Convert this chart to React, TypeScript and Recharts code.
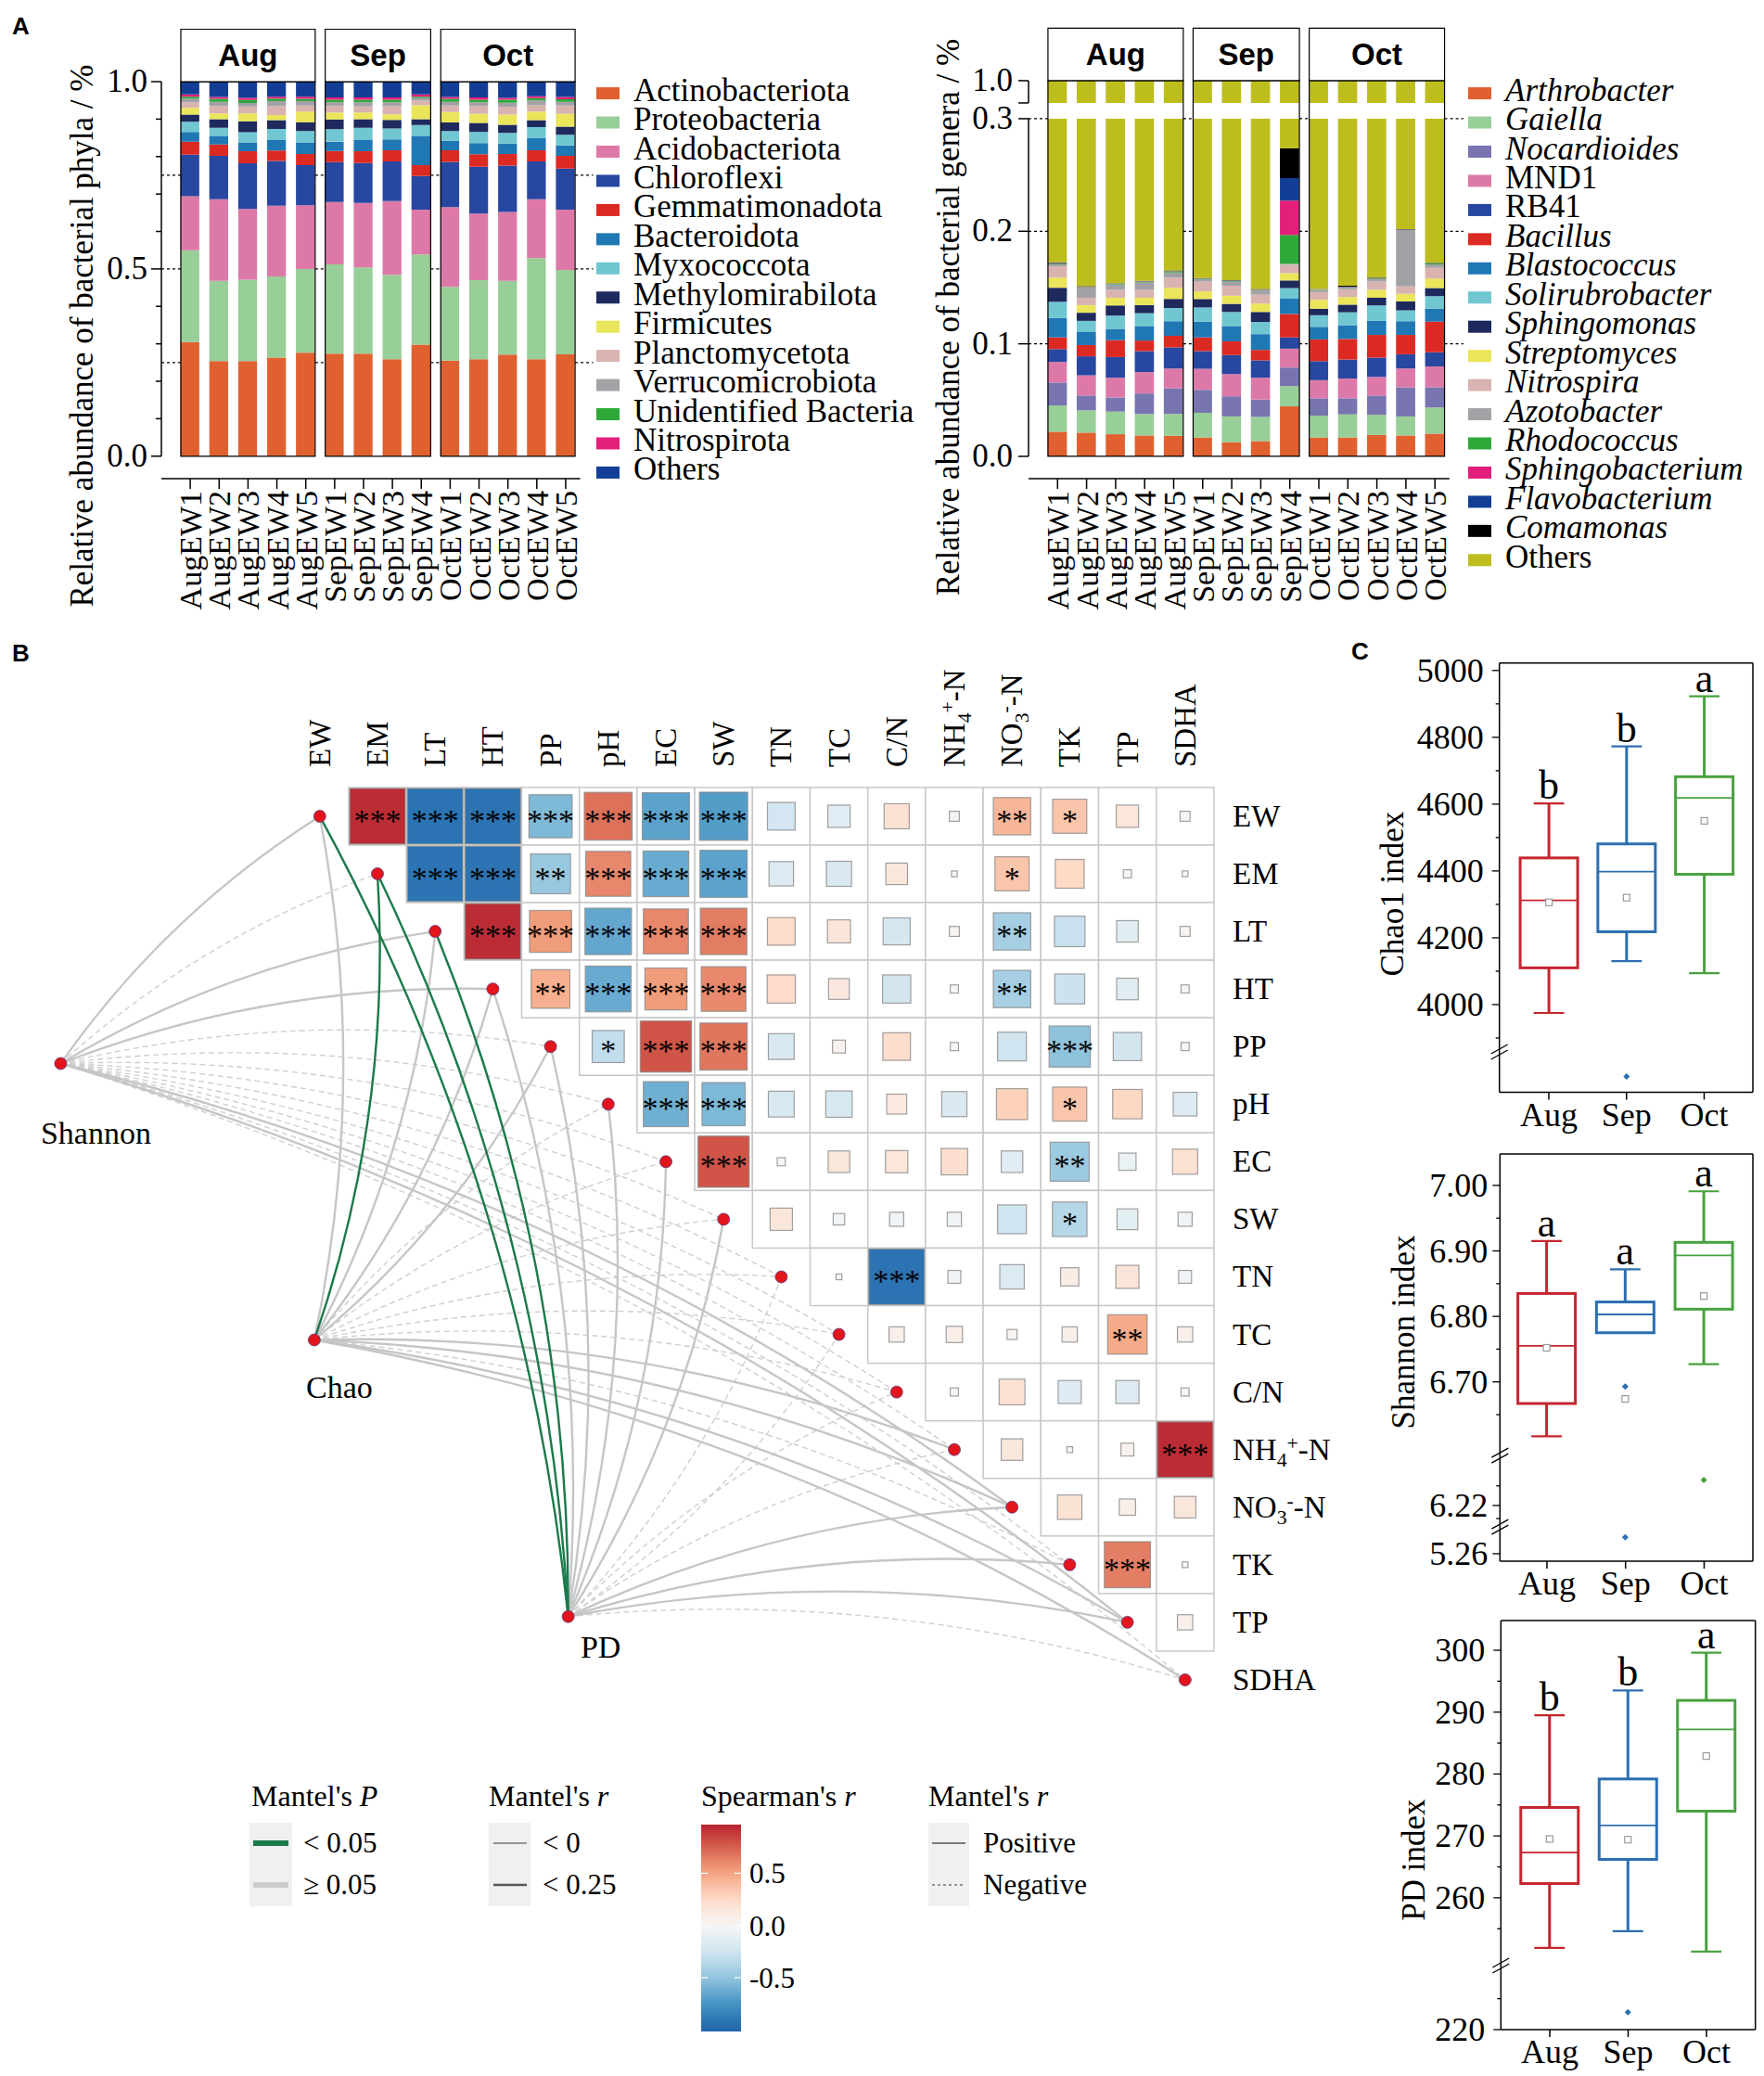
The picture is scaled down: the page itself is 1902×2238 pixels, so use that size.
import React from 'react';
import {
  BarChart, Bar, XAxis, YAxis, ReferenceLine, ReferenceArea, Legend,
  ScatterChart, Scatter, ComposedChart,
} from 'recharts';

const SERIF = "'Liberation Serif', 'Times New Roman', Times, serif";
const SANS = "'Liberation Sans', Arial, Helvetica, sans-serif";

/* ======================= Panel A : data ======================= */
const SAMPLES = ['AugEW1', 'AugEW2', 'AugEW3', 'AugEW4', 'AugEW5', 'SepEW1', 'SepEW2', 'SepEW3', 'SepEW4', 'OctEW1', 'OctEW2', 'OctEW3', 'OctEW4', 'OctEW5'];
const MONTHS = ['Aug', 'Sep', 'Oct'];

// phyla (relative abundance, bottom -> top of each stack)
const actinobacteriota = [0.305, 0.254, 0.254, 0.263, 0.276, 0.274, 0.274, 0.259, 0.298, 0.255, 0.259, 0.271, 0.259, 0.272];
const proteobacteria = [0.245, 0.214, 0.217, 0.217, 0.224, 0.238, 0.230, 0.225, 0.241, 0.197, 0.211, 0.197, 0.270, 0.225];
const acidobacteriota = [0.144, 0.218, 0.189, 0.189, 0.170, 0.167, 0.172, 0.197, 0.119, 0.213, 0.178, 0.184, 0.157, 0.161];
const chloroflexi = [0.111, 0.116, 0.122, 0.119, 0.107, 0.106, 0.107, 0.106, 0.090, 0.121, 0.125, 0.124, 0.101, 0.110];
const gemmatimonadota = [0.035, 0.030, 0.032, 0.028, 0.030, 0.030, 0.031, 0.030, 0.029, 0.031, 0.033, 0.031, 0.030, 0.034];
const bacteroidota = [0.026, 0.023, 0.024, 0.029, 0.031, 0.025, 0.030, 0.029, 0.078, 0.025, 0.030, 0.028, 0.033, 0.028];
const myxococcota = [0.027, 0.022, 0.027, 0.029, 0.030, 0.033, 0.033, 0.029, 0.029, 0.026, 0.030, 0.028, 0.029, 0.028];
const methylomirabilota = [0.019, 0.023, 0.029, 0.023, 0.024, 0.026, 0.023, 0.023, 0.016, 0.023, 0.024, 0.022, 0.018, 0.022];
const firmicutes = [0.018, 0.015, 0.021, 0.014, 0.028, 0.019, 0.018, 0.015, 0.037, 0.028, 0.024, 0.027, 0.023, 0.034];
const planctomycetota = [0.015, 0.020, 0.019, 0.024, 0.016, 0.017, 0.016, 0.022, 0.013, 0.017, 0.021, 0.021, 0.017, 0.022];
const verrucomicrobiota = [0.009, 0.011, 0.009, 0.013, 0.012, 0.010, 0.011, 0.010, 0.006, 0.010, 0.010, 0.011, 0.013, 0.010];
const unidentifiedBacteria = [0.006, 0.008, 0.008, 0.007, 0.006, 0.007, 0.007, 0.007, 0.004, 0.008, 0.007, 0.008, 0.006, 0.007];
const nitrospirota = [0.006, 0.005, 0.006, 0.005, 0.006, 0.006, 0.006, 0.006, 0.006, 0.005, 0.006, 0.005, 0.005, 0.006];
const othersPhyla = [0.034, 0.041, 0.043, 0.040, 0.040, 0.042, 0.042, 0.042, 0.034, 0.041, 0.042, 0.043, 0.039, 0.041];

// genera
const arthrobacter = [0.0219, 0.0211, 0.0197, 0.0186, 0.0183, 0.0168, 0.0125, 0.0136, 0.0444, 0.0168, 0.0168, 0.0190, 0.0186, 0.0201];
const gaiella = [0.0233, 0.0198, 0.0201, 0.0190, 0.0193, 0.0219, 0.0230, 0.0215, 0.0180, 0.0194, 0.0205, 0.0179, 0.0169, 0.0233];
const nocardioides = [0.0204, 0.0132, 0.0125, 0.0183, 0.0230, 0.0204, 0.0179, 0.0154, 0.0165, 0.0154, 0.0143, 0.0172, 0.0258, 0.0179];
const mnd1 = [0.0183, 0.0179, 0.0176, 0.0190, 0.0175, 0.0187, 0.0197, 0.0194, 0.0168, 0.0161, 0.0176, 0.0165, 0.0168, 0.0186];
const rb41 = [0.0114, 0.0169, 0.0183, 0.0186, 0.0187, 0.0157, 0.0169, 0.0154, 0.0100, 0.0169, 0.0168, 0.0172, 0.0126, 0.0126];
const bacillus = [0.0104, 0.0100, 0.0150, 0.0094, 0.0104, 0.0122, 0.0122, 0.0093, 0.0208, 0.0193, 0.0183, 0.0201, 0.0172, 0.0272];
const blastococcus = [0.0172, 0.0115, 0.0101, 0.0129, 0.0129, 0.0140, 0.0136, 0.0140, 0.0136, 0.0112, 0.0122, 0.0125, 0.0122, 0.0115];
const solirubrobacter = [0.0144, 0.0100, 0.0118, 0.0114, 0.0118, 0.0126, 0.0125, 0.0108, 0.0094, 0.0103, 0.0115, 0.0137, 0.0096, 0.0111];
const sphingomonas = [0.0125, 0.0072, 0.0090, 0.0072, 0.0079, 0.0075, 0.0072, 0.0089, 0.0068, 0.0058, 0.0068, 0.0068, 0.0079, 0.0072];
const streptomyces = [0.0090, 0.0068, 0.0068, 0.0065, 0.0100, 0.0068, 0.0072, 0.0075, 0.0064, 0.0079, 0.0068, 0.0071, 0.0068, 0.0086];
const nitrospira = [0.0100, 0.0065, 0.0071, 0.0071, 0.0090, 0.0086, 0.0089, 0.0079, 0.0076, 0.0068, 0.0068, 0.0072, 0.0065, 0.0093];
const azotobacter = [0.0018, 0.0089, 0.0047, 0.0065, 0.0046, 0.0018, 0.0036, 0.0036, 0.0007, 0.0021, 0.0014, 0.0021, 0.0502, 0.0032];
const rhodococcus = [0.0007, 0.0007, 0.0007, 0.0007, 0.0011, 0.0007, 0.0007, 0.0007, 0.0258, 0.0003, 0.0004, 0.0007, 0.0002, 0.0007];
const sphingobacterium = [0.0004, 0.0003, 0.0002, 0.0003, 0.0003, 0.0003, 0.0003, 0.0003, 0.0304, 0.0002, 0.0003, 0.0003, 0.0002, 0.0003];
const flavobacterium = [0.0003, 0.0002, 0.0001, 0.0002, 0.0002, 0.0002, 0.0002, 0.0002, 0.0201, 0.0001, 0.0003, 0.0002, 0.0001, 0.0002];
const comamonas = [0.0004, 0.0003, 0.0001, 0.0002, 0.0002, 0.0002, 0.0002, 0.0002, 0.0265, 0.0001, 0.0008, 0.0003, 0.0002, 0.0002];
const othersGenera = [0.8276, 0.8487, 0.8462, 0.8441, 0.8348, 0.8416, 0.8434, 0.8513, 0.7262, 0.8513, 0.8484, 0.8412, 0.7982, 0.8280];

const PHYLA = [
  { name: 'Actinobacteriota', values: actinobacteriota, color: '#E0612F' },
  { name: 'Proteobacteria', values: proteobacteria, color: '#98CE97' },
  { name: 'Acidobacteriota', values: acidobacteriota, color: '#DD79A9' },
  { name: 'Chloroflexi', values: chloroflexi, color: '#2747A0' },
  { name: 'Gemmatimonadota', values: gemmatimonadota, color: '#DC2A23' },
  { name: 'Bacteroidota', values: bacteroidota, color: '#1F78B4' },
  { name: 'Myxococcota', values: myxococcota, color: '#70C6D1' },
  { name: 'Methylomirabilota', values: methylomirabilota, color: '#1E2A5E' },
  { name: 'Firmicutes', values: firmicutes, color: '#EAE55A' },
  { name: 'Planctomycetota', values: planctomycetota, color: '#D9B3B0' },
  { name: 'Verrucomicrobiota', values: verrucomicrobiota, color: '#A2A2A6' },
  { name: 'Unidentified Bacteria', values: unidentifiedBacteria, color: '#2FA83A' },
  { name: 'Nitrospirota', values: nitrospirota, color: '#E41F7B' },
  { name: 'Others', values: othersPhyla, color: '#123E95' },
];

const GENERA = [
  { name: 'Arthrobacter', values: arthrobacter, color: '#E0612F', italic: true },
  { name: 'Gaiella', values: gaiella, color: '#98CE97', italic: true },
  { name: 'Nocardioides', values: nocardioides, color: '#7774B0', italic: true },
  { name: 'MND1', values: mnd1, color: '#DD79A9', italic: false },
  { name: 'RB41', values: rb41, color: '#2747A0', italic: false },
  { name: 'Bacillus', values: bacillus, color: '#DC2A23', italic: true },
  { name: 'Blastococcus', values: blastococcus, color: '#1F78B4', italic: true },
  { name: 'Solirubrobacter', values: solirubrobacter, color: '#70C6D1', italic: true },
  { name: 'Sphingomonas', values: sphingomonas, color: '#1E2A5E', italic: true },
  { name: 'Streptomyces', values: streptomyces, color: '#EAE55A', italic: true },
  { name: 'Nitrospira', values: nitrospira, color: '#D9B3B0', italic: true },
  { name: 'Azotobacter', values: azotobacter, color: '#A2A2A6', italic: true },
  { name: 'Rhodococcus', values: rhodococcus, color: '#2FA83A', italic: true },
  { name: 'Sphingobacterium', values: sphingobacterium, color: '#E41F7B', italic: true },
  { name: 'Flavobacterium', values: flavobacterium, color: '#123E95', italic: true },
  { name: 'Comamonas', values: comamonas, color: '#000000', italic: true },
];
const GEN_OTHERS_COLOR = '#BDBE1E';

const phylaTable = SAMPLES.map((s, i) => {
  const row: any = { idx: i + 1, sample: s };
  PHYLA.forEach((p, k) => { row['p' + k] = p.values[i]; });
  return row;
});

// broken y axis of the genera chart: 0-0.3 linear, then a gap, then a short segment up to 1.0
const G_BREAK = 0.3;
const G_GAP_TOP = 0.314;
const G_TOP = 0.3338;
const genDisplay = (v: number) => (v <= G_BREAK ? v : G_GAP_TOP + ((v - G_BREAK) / (1 - G_BREAK)) * (G_TOP - G_GAP_TOP));

const generaTable = SAMPLES.map((s, i) => {
  const row: any = { idx: i + 1, sample: s };
  let cum = 0;
  GENERA.forEach((g, k) => { row['g' + k] = g.values[i]; cum += g.values[i]; });
  const top = cum + othersGenera[i];
  row.othLow = Math.min(top, G_BREAK) - cum;
  row.othGap = G_GAP_TOP - G_BREAK;
  row.othHigh = genDisplay(top) - G_GAP_TOP;
  return row;
});

const monthGroups = (half: number) => MONTHS.map((m) => {
  const idxs = SAMPLES.map((s, i) => (s.startsWith(m) ? i + 1 : -1)).filter((i) => i > 0);
  return { name: m, x1: idxs[0] - half, x2: idxs[idxs.length - 1] + half };
});
const gapSegments = (groups: any[], xEnd: number) => {
  const segs: number[][] = [];
  let start = 0;
  groups.forEach((g) => { segs.push([start, g.x1]); start = g.x2; });
  segs.push([start, xEnd]);
  return segs;
};

/* ----------------------- shared pieces ----------------------- */
const AxisTitle = (props: any) => (
  <text transform={`translate(${props.px},${props.py}) rotate(-90)`} textAnchor="middle"
    fontFamily={SERIF} fontSize={props.fs || 35} fill="#000">{props.text}</text>
);

const sampleTick = (p: any) => {
  const { x, y, payload } = p;
  const name = SAMPLES[Math.round(payload.value) - 1];
  return (
    <g>
      <line x1={x} y1={y} x2={x} y2={y + 11} stroke="#000" strokeWidth={1.5} />
      <text transform={`translate(${x + 12},${y + 13}) rotate(-90)`} textAnchor="end"
        fontFamily={SERIF} fontSize={34} fill="#000">{name}</text>
    </g>
  );
};

const makeYTick = (labels: Record<string, string>, labelGap: number) => (p: any) => {
  const { x, y, payload } = p;
  const key = Number(payload.value).toFixed(4);
  const lab = labels[key];
  const len = lab !== undefined ? 11 : 6;
  return (
    <g>
      <line x1={x - len} y1={y} x2={x} y2={y} stroke="#000" strokeWidth={1.5} />
      {lab ? <text x={x - labelGap} y={y + 11} textAnchor="end" fontFamily={SERIF} fontSize={35} fill="#000">{lab}</text> : null}
    </g>
  );
};

const BarLegend = ({ items }: any) => (
  <svg width={330} height={560} style={{ overflow: 'visible' }}>
    {items.map((it: any, k: number) => {
      const cy = 20.6 + k * 31.45;
      return (
        <g key={k}>
          <rect x={3} y={cy - 6.5} width={25} height={13} fill={it.color} />
          <text x={43} y={cy + 8} fontFamily={SERIF} fontSize={35} fontStyle={it.italic ? 'italic' : 'normal'} fill="#000">{it.name}</text>
        </g>
      );
    })}
  </svg>
);

/* ======================= Panel A left : phyla ======================= */
const PH_X_MAX = 14.5;
const PH_BAR_HALF = 0.326;
const PH_Y_TICKS = Array.from({ length: 11 }, (_, i) => Math.round(i * 10) / 100);
const PH_Y_LABELS: Record<string, string> = { '0.0000': '0.0', '0.5000': '0.5', '1.0000': '1.0' };
const PH_DASHED = [0.25, 0.5, 0.75];

function PhylaChart() {
  const groups = monthGroups(PH_BAR_HALF);
  const segs = gapSegments(groups, 14.95);
  return (
    <div style={{ position: 'absolute', left: 0, top: 0 }}>
      <BarChart width={1000} height={666} data={phylaTable} margin={{ top: 31.5, right: 374.5, left: 0, bottom: 0 }}>
        <XAxis type="number" dataKey="idx" domain={[0, PH_X_MAX]} allowDataOverflow ticks={SAMPLES.map((_, i) => i + 1)}
          interval={0} height={150} tickSize={0} tickMargin={0} tickLine={false}
          axisLine={{ stroke: '#000', strokeWidth: 1.5 }} tick={sampleTick} />
        <YAxis type="number" domain={[-0.06, 1.14]} allowDataOverflow ticks={PH_Y_TICKS} interval={0} width={174}
          tickSize={0} tickMargin={0} tickLine={false} axisLine={false} tick={makeYTick(PH_Y_LABELS, 15)}
          label={<AxisTitle px={100} py={362} text="Relative abundance of bacterial phyla / %" />} />
        {PH_DASHED.map((v) => segs.map((s, k) => (
          <ReferenceLine key={`d${v}-${k}`} segment={[{ x: s[0], y: v }, { x: s[1], y: v }]} stroke="#000"
            strokeWidth={1.2} strokeDasharray="3 3" ifOverflow="visible" />
        )))}
        <ReferenceLine segment={[{ x: 0, y: 0 }, { x: 0, y: 1 }]} stroke="#000" strokeWidth={1.5} ifOverflow="visible" />
        {PHYLA.map((p, k) => (
          <Bar key={p.name} dataKey={'p' + k} stackId="s" fill={p.color} barSize={20.3} isAnimationActive={false} />
        ))}
        {groups.map((g) => (
          <ReferenceArea key={'pb' + g.name} x1={g.x1} x2={g.x2} y1={0} y2={1} fill="none" stroke="#000"
            strokeWidth={1.2} ifOverflow="visible" zIndex={1000} />
        ))}
        {groups.map((g) => (
          <ReferenceArea key={'ph' + g.name} x1={g.x1} x2={g.x2} y1={1} y2={1.14} fill="#fff" fillOpacity={1}
            stroke="#000" strokeWidth={1.2} ifOverflow="visible" zIndex={1000}
            label={{ value: g.name, position: 'center', fill: '#000', fontSize: 33, fontWeight: 'bold', fontFamily: SANS }} />
        ))}
        <Legend layout="vertical" align="center" verticalAlign="middle"
          wrapperStyle={{ left: 640, top: 80, width: 330, height: 470 }}
          content={() => <BarLegend items={PHYLA.map((p) => ({ name: p.name, color: p.color, italic: false }))} />} />
      </BarChart>
    </div>
  );
}

/* ======================= Panel A right : genera ======================= */
const GE_X_MAX = 14.5;
const GE_BAR_HALF = 0.331;
const GE_Y_TICKS = [0, 0.1, 0.2, 0.3, G_GAP_TOP, G_TOP];
const GE_Y_LABELS: Record<string, string> = { '0.0000': '0.0', '0.1000': '0.1', '0.2000': '0.2', '0.3000': '0.3', [G_TOP.toFixed(4)]: '1.0', [G_GAP_TOP.toFixed(4)]: '' };
const GE_DASHED = [0.1, 0.2, 0.3];

function GeneraChart() {
  const groups = monthGroups(GE_BAR_HALF);
  const segs = gapSegments(groups, 14.98);
  const legendItems = [...GENERA.map((g) => ({ name: g.name, color: g.color, italic: g.italic })), { name: 'Others', color: GEN_OTHERS_COLOR, italic: false }];
  return (
    <div style={{ position: 'absolute', left: 1000, top: 0 }}>
      <BarChart width={902} height={666} data={generaTable} margin={{ top: 30.4, right: 339.15, left: 0, bottom: 0 }}>
        <XAxis type="number" dataKey="idx" domain={[0, GE_X_MAX]} allowDataOverflow ticks={SAMPLES.map((_, i) => i + 1)}
          interval={0} height={150} tickSize={0} tickMargin={0} tickLine={false}
          axisLine={{ stroke: '#000', strokeWidth: 1.5 }} tick={sampleTick} />
        <YAxis type="number" domain={[-0.0198, 0.3804]} allowDataOverflow ticks={GE_Y_TICKS} interval={0} width={109}
          tickSize={0} tickMargin={0} tickLine={false} axisLine={false} tick={makeYTick(GE_Y_LABELS, 17)}
          label={<AxisTitle px={34} py={342} text="Relative abundance of bacterial genera / %" />} />
        {GE_DASHED.map((v) => segs.map((s, k) => (
          <ReferenceLine key={`d${v}-${k}`} segment={[{ x: s[0], y: v }, { x: s[1], y: v }]} stroke="#000"
            strokeWidth={1.2} strokeDasharray="3 3" ifOverflow="visible" />
        )))}
        <ReferenceLine segment={[{ x: 0, y: 0 }, { x: 0, y: G_BREAK }]} stroke="#000" strokeWidth={1.5} ifOverflow="visible" />
        <ReferenceLine segment={[{ x: 0, y: G_GAP_TOP }, { x: 0, y: G_TOP }]} stroke="#000" strokeWidth={1.5} ifOverflow="visible" />
        {GENERA.map((g, k) => (
          <Bar key={g.name} dataKey={'g' + k} stackId="s" fill={g.color} barSize={20.7} isAnimationActive={false} />
        ))}
        <Bar dataKey="othLow" stackId="s" fill={GEN_OTHERS_COLOR} barSize={20.7} isAnimationActive={false} />
        <Bar dataKey="othGap" stackId="s" fill="none" barSize={20.7} isAnimationActive={false} />
        <Bar dataKey="othHigh" stackId="s" fill={GEN_OTHERS_COLOR} barSize={20.7} isAnimationActive={false} />
        {groups.map((g) => (
          <ReferenceArea key={'pb' + g.name} x1={g.x1} x2={g.x2} y1={0} y2={G_TOP} fill="none" stroke="#000"
            strokeWidth={1.2} ifOverflow="visible" zIndex={1000} />
        ))}
        {groups.map((g) => (
          <ReferenceArea key={'ph' + g.name} x1={g.x1} x2={g.x2} y1={G_TOP} y2={0.3804} fill="#fff" fillOpacity={1}
            stroke="#000" strokeWidth={1.2} ifOverflow="visible" zIndex={1000}
            label={{ value: g.name, position: 'center', fill: '#000', fontSize: 33, fontWeight: 'bold', fontFamily: SANS }} />
        ))}
        <Legend layout="vertical" align="center" verticalAlign="middle"
          wrapperStyle={{ left: 580, top: 80, width: 322, height: 560 }}
          content={() => <BarLegend items={legendItems} />} />
      </BarChart>
    </div>
  );
}

/* ======================= Panel B : data ======================= */
const ENV = ['EW', 'EM', 'LT', 'HT', 'PP', 'pH', 'EC', 'SW', 'TN', 'TC', 'C/N', 'NH4+-N', 'NO3--N', 'TK', 'TP', 'SDHA'];

// Spearman's r (upper triangle, each row starts at the column right of the diagonal)
const corrEW = [0.93, -0.93, -0.93, -0.56, 0.69, -0.67, -0.70, -0.23, -0.15, 0.19, -0.03, 0.42, 0.35, 0.15, -0.03];
const corrEM = [-0.92, -0.92, -0.48, 0.61, -0.63, -0.67, -0.18, -0.19, 0.14, 0.01, 0.35, 0.25, 0.02, 0.01];
const corrLT = [0.93, 0.53, -0.65, 0.61, 0.65, 0.23, 0.16, -0.22, 0.03, -0.42, -0.28, -0.14, 0.03];
const corrHT = [0.45, -0.63, 0.53, 0.60, 0.24, 0.13, -0.24, 0.02, -0.42, -0.27, -0.14, 0.02];
const corrPP = [-0.31, 0.79, 0.67, -0.20, 0.05, 0.23, 0.02, -0.25, -0.51, -0.24, 0.02];
const corrPH = [-0.61, -0.56, -0.20, -0.21, 0.12, -0.19, 0.29, 0.35, 0.26, -0.17];
const corrEC = [0.79, 0.02, 0.14, 0.15, 0.21, -0.14, -0.46, -0.09, 0.19];
const corrSW = [0.15, -0.04, -0.06, -0.06, -0.25, -0.36, -0.13, -0.06];
const corrTN = [0.01, -0.93, -0.05, -0.18, 0.10, 0.16, -0.05];
const corrTC = [0.07, 0.08, 0.03, 0.07, 0.47, 0.07];
const corrCN = [0.02, 0.20, -0.16, -0.16, 0.02];
const corrNH4 = [0.14, 0.01, 0.05, 0.93];
const corrNO3 = [0.18, 0.08, 0.14];
const corrTK = [0.64, 0.01];
const corrTP = [0.07];

const sigEW = ['***', '***', '***', '***', '***', '***', '***', '', '', '', '', '**', '*', '', ''];
const sigEM = ['***', '***', '**', '***', '***', '***', '', '', '', '', '*', '', '', ''];
const sigLT = ['***', '***', '***', '***', '***', '', '', '', '', '**', '', '', ''];
const sigHT = ['**', '***', '***', '***', '', '', '', '', '**', '', '', ''];
const sigPP = ['*', '***', '***', '', '', '', '', '', '***', '', ''];
const sigPH = ['***', '***', '', '', '', '', '', '*', '', ''];
const sigEC = ['***', '', '', '', '', '', '**', '', ''];
const sigSW = ['', '', '', '', '', '*', '', ''];
const sigTN = ['', '***', '', '', '', '', ''];
const sigTC = ['', '', '', '', '**', ''];
const sigCN = ['', '', '', '', ''];
const sigNH4 = ['', '', '', '***'];
const sigNO3 = ['', '', ''];
const sigTK = ['***', ''];
const sigTP = [''];

const CORR_ROWS = [corrEW, corrEM, corrLT, corrHT, corrPP, corrPH, corrEC, corrSW, corrTN, corrTC, corrCN, corrNH4, corrNO3, corrTK, corrTP];
const SIG_ROWS = [sigEW, sigEM, sigLT, sigHT, sigPP, sigPH, sigEC, sigSW, sigTN, sigTC, sigCN, sigNH4, sigNO3, sigTK, sigTP];

// Mantel test (one value per environmental factor, ENV order)
const INDICES = ['Shannon', 'Chao', 'PD'];
const mantelRShannon = [0.08, -0.03, 0.06, 0.07, -0.04, -0.05, -0.04, -0.06, -0.05, -0.06, -0.07, -0.04, 0.05, -0.05, 0.06, -0.08];
const mantelPShannon = [0.21, 0.55, 0.25, 0.22, 0.60, 0.70, 0.60, 0.80, 0.70, 0.80, 0.90, 0.60, 0.30, 0.70, 0.25, 0.90];
const mantelRChao = [0.09, 0.18, 0.10, 0.09, 0.07, -0.04, -0.05, -0.03, -0.06, -0.05, -0.07, 0.05, 0.06, -0.04, 0.05, 0.04];
const mantelPChao = [0.12, 0.03, 0.11, 0.14, 0.20, 0.60, 0.60, 0.55, 0.80, 0.70, 0.90, 0.30, 0.25, 0.60, 0.30, 0.35];
const mantelRPD = [0.20, 0.21, 0.18, 0.10, 0.09, 0.06, 0.07, 0.06, -0.04, -0.05, -0.06, -0.05, 0.06, 0.08, 0.07, -0.06];
const mantelPPD = [0.02, 0.02, 0.04, 0.09, 0.12, 0.20, 0.18, 0.20, 0.60, 0.70, 0.80, 0.70, 0.25, 0.20, 0.22, 0.80];
const MANTEL_R = [mantelRShannon, mantelRChao, mantelRPD];
const MANTEL_P = [mantelPShannon, mantelPChao, mantelPPD];

/* ----------------------- Panel B : layout ----------------------- */
const HM_LEFT = 0, HM_TOP = 700, HM_W = 1476, HM_H = 1538;
const HX0 = 313.7, HDX = 62.2, HY0 = 148.9, HDY = 62.07;
const HXMIN = -HX0 / HDX - 0.5;
const HXMAX = (HM_W - HX0) / HDX - 0.5;
const HYMIN = -HY0 / HDY - 0.5;
const HYMAX = (HM_H - HY0) / HDY - 0.5;
const INDEX_POS = [{ x: -4.492, y: 4.295 }, { x: -0.095, y: 9.096 }, { x: 4.306, y: 13.90 }];
const INDEX_LABEL_OFFSET = [{ dx: 38, dy: 86 }, { dx: 27, dy: 62 }, { dx: 35, dy: 44 }];
const COL_LABEL_Y = -0.853;
const ROW_LABEL_X = 15.823;

const RDBU: [number, string][] = [
  [-1, '#2166AC'], [-0.75, '#4393C3'], [-0.5, '#92C5DE'], [-0.25, '#D1E5F0'], [0, '#F7F7F7'],
  [0.25, '#FDDBC7'], [0.5, '#F4A582'], [0.75, '#D6604D'], [1, '#B2182B'],
];
const hexRgb = (h: string) => [parseInt(h.slice(1, 3), 16), parseInt(h.slice(3, 5), 16), parseInt(h.slice(5, 7), 16)];
function rdbu(v: number) {
  const t = Math.max(-1, Math.min(1, v));
  for (let i = 0; i < RDBU.length - 1; i++) {
    const [a, ca] = RDBU[i];
    const [b, cb] = RDBU[i + 1];
    if (t >= a && t <= b) {
      const f = (t - a) / (b - a);
      const A = hexRgb(ca), B = hexRgb(cb);
      const c = A.map((x, k) => Math.round(x + (B[k] - x) * f));
      return `rgb(${c[0]},${c[1]},${c[2]})`;
    }
  }
  return '#F7F7F7';
}

const cellData: any[] = [];
CORR_ROWS.forEach((row, i) => row.forEach((r, k) => {
  cellData.push({ x: i + 1 + k, y: i, r, stars: SIG_ROWS[i][k] });
}));

const LINKS: any[] = [];
INDICES.forEach((_, a) => ENV.forEach((__, j) => LINKS.push({ a, j, r: MANTEL_R[a][j], p: MANTEL_P[a][j] })));
const linkPoints: any[] = [];
LINKS.forEach((l) => {
  linkPoints.push({ x: INDEX_POS[l.a].x, y: INDEX_POS[l.a].y });
  linkPoints.push({ x: l.j, y: l.j });
});

const nodeData: any[] = [
  ...ENV.map((e, j) => ({ x: j, y: j, kind: 'env' })),
  ...INDICES.map((n, a) => ({ x: INDEX_POS[a].x, y: INDEX_POS[a].y, kind: 'index', name: n, a })),
];
const labelData: any[] = [
  ...ENV.map((e, j) => ({ x: j, y: COL_LABEL_Y, kind: 'col', j })),
  ...ENV.map((e, i) => ({ x: ROW_LABEL_X, y: i, kind: 'row', j: i })),
];

const envLabel = (j: number) => {
  const e = ENV[j];
  if (e === 'NH4+-N') {
    return [<tspan key="a">NH</tspan>, <tspan key="b" fontSize="66%" dy={7}>4</tspan>,
      <tspan key="c" fontSize="66%" dy={-18}>+</tspan>, <tspan key="d" dy={11}>-N</tspan>];
  }
  if (e === 'NO3--N') {
    return [<tspan key="a">NO</tspan>, <tspan key="b" fontSize="66%" dy={7}>3</tspan>,
      <tspan key="c" fontSize="66%" dy={-18}>-</tspan>, <tspan key="d" dy={11}>-N</tspan>];
  }
  return e;
};

const renderNothing = () => <g />;

const renderLinks = (lp: any) => {
  const pts = lp.points || [];
  const items = LINKS.map((l, k) => {
    const a = pts[2 * k], b = pts[2 * k + 1];
    if (!a || !b) return null;
    const dx = b.x - a.x, dy = b.y - a.y;
    const s = dx + dy >= 0 ? 1 : -1;
    const mx = (a.x + b.x) / 2 + 0.1 * s * dy;
    const my = (a.y + b.y) / 2 - 0.1 * s * dx;
    const sig = l.p < 0.05;
    const neg = l.r < 0;
    const order = sig ? 2 : neg ? 0 : 1;
    const stroke = sig ? '#1B7A4B' : neg ? '#CFCFCF' : '#C6C6C6';
    const width = sig ? 2.4 : neg ? 1.4 : 2.4;
    return { order, el: <path key={k} d={`M${a.x},${a.y} Q${mx},${my} ${b.x},${b.y}`} fill="none" stroke={stroke} strokeWidth={width} strokeDasharray={neg ? '6 4' : undefined} /> };
  }).filter(Boolean) as any[];
  items.sort((u, v) => u.order - v.order);
  return <g>{items.map((it) => it.el)}</g>;
};

const renderCell = (p: any) => {
  const { cx, cy, payload } = p;
  const side = Math.sqrt(Math.abs(payload.r));
  const w = side * HDX, h = side * HDY;
  return (
    <g>
      <rect x={cx - HDX / 2} y={cy - HDY / 2} width={HDX} height={HDY} fill="#fff" stroke="#C8C8C8" strokeWidth={1.5} />
      <rect x={cx - w / 2} y={cy - h / 2} width={w} height={h} fill={rdbu(payload.r)} stroke="#8A8A8A" strokeOpacity={0.8} strokeWidth={1.2} />
      {payload.stars ? (
        <text x={cx} y={cy + 16} textAnchor="middle" fontFamily={SERIF} fontSize={34} fill="#000">{payload.stars}</text>
      ) : null}
    </g>
  );
};

const renderLabel = (p: any) => {
  const { cx, cy, payload } = p;
  if (payload.kind === 'col') {
    return (
      <text transform={`translate(${cx + 11},${cy}) rotate(-90)`} textAnchor="start" fontFamily={SERIF} fontSize={33} fill="#000">
        {envLabel(payload.j)}
      </text>
    );
  }
  return (
    <text x={cx} y={cy + 11} textAnchor="start" fontFamily={SERIF} fontSize={33} fill="#000">{envLabel(payload.j)}</text>
  );
};

const renderNode = (p: any) => {
  const { cx, cy, payload } = p;
  return (
    <g>
      <circle cx={cx} cy={cy} r={6.5} fill="#E3141C" stroke="#5A3A7A" strokeWidth={0.8} />
      {payload.kind === 'index' ? (
        <text x={cx + INDEX_LABEL_OFFSET[payload.a].dx} y={cy + INDEX_LABEL_OFFSET[payload.a].dy} textAnchor="middle"
          fontFamily={SERIF} fontSize={34} fill="#000">{payload.name}</text>
      ) : null}
    </g>
  );
};

const CB_TOP = 67, CB_BOTTOM = 290, CB_ZERO = 175.7, CB_PER = 112.6;
const HeatLegend = () => {
  const stops = Array.from({ length: 21 }, (_, i) => {
    const o = i / 20;
    const yy = CB_TOP + o * (CB_BOTTOM - CB_TOP);
    const v = (CB_ZERO - yy) / CB_PER;
    return <stop key={i} offset={o} stopColor={rdbu(v)} />;
  });
  const txt = { fontFamily: SERIF, fontSize: 31, fill: '#000' } as any;
  const ttl = { fontFamily: SERIF, fontSize: 32, fill: '#000' } as any;
  return (
    <svg width={950} height={300} style={{ overflow: 'visible' }}>
      <defs>
        <linearGradient id="rdbuGrad" x1="0" y1="0" x2="0" y2="1">{stops}</linearGradient>
      </defs>
      <text x={21} y={47} {...ttl}>Mantel's <tspan fontStyle="italic">P</tspan></text>
      <rect x={19} y={65} width={46} height={90} fill="#F0F0F0" />
      <line x1={23} x2={61} y1={87} y2={87} stroke="#1B7A4B" strokeWidth={6} />
      <line x1={23} x2={61} y1={132} y2={132} stroke="#CCCCCC" strokeWidth={6} />
      <text x={77} y={97} {...txt}>{'< 0.05'}</text>
      <text x={77} y={142} {...txt}>{'\u2265 0.05'}</text>

      <text x={277} y={47} {...ttl}>Mantel's <tspan fontStyle="italic">r</tspan></text>
      <rect x={277} y={65} width={45} height={90} fill="#F0F0F0" />
      <line x1={282} x2={318} y1={87} y2={87} stroke="#777" strokeWidth={1.3} />
      <line x1={282} x2={318} y1={132} y2={132} stroke="#555" strokeWidth={2.6} />
      <text x={335} y={97} {...txt}>{'< 0'}</text>
      <text x={335} y={142} {...txt}>{'< 0.25'}</text>

      <text x={506} y={47} {...ttl}>Spearman's <tspan fontStyle="italic">r</tspan></text>
      <rect x={506} y={CB_TOP} width={43} height={CB_BOTTOM - CB_TOP} fill="url(#rdbuGrad)" />
      {[0.5, 0, -0.5].map((v) => {
        const yy = CB_ZERO - v * CB_PER;
        return (
          <g key={v}>
            <line x1={506} x2={513} y1={yy} y2={yy} stroke="#fff" strokeWidth={1.2} />
            <line x1={542} x2={549} y1={yy} y2={yy} stroke="#fff" strokeWidth={1.2} />
            <text x={558} y={yy + 11} {...txt}>{v.toFixed(1)}</text>
          </g>
        );
      })}

      <text x={751} y={47} {...ttl}>Mantel's <tspan fontStyle="italic">r</tspan></text>
      <rect x={751} y={65} width={44} height={90} fill="#F0F0F0" />
      <line x1={755} x2={791} y1={87} y2={87} stroke="#555" strokeWidth={1.6} />
      <line x1={755} x2={791} y1={132} y2={132} stroke="#777" strokeWidth={1.4} strokeDasharray="3 3" />
      <text x={810} y={97} {...txt}>Positive</text>
      <text x={810} y={142} {...txt}>Negative</text>
    </svg>
  );
};

function HeatNetwork() {
  return (
    <div style={{ position: 'absolute', left: HM_LEFT, top: HM_TOP }}>
      <ScatterChart width={HM_W} height={HM_H} margin={{ top: 0, right: 0, bottom: 0, left: 0 }}>
        <XAxis type="number" dataKey="x" domain={[HXMIN, HXMAX]} allowDataOverflow hide />
        <YAxis type="number" dataKey="y" domain={[HYMIN, HYMAX]} allowDataOverflow reversed hide />
        <Scatter data={linkPoints} line={renderLinks} shape={renderNothing} fill="#C6C6C6" isAnimationActive={false} />
        <Scatter data={cellData} shape={renderCell} isAnimationActive={false} />
        <Scatter data={labelData} shape={renderLabel} isAnimationActive={false} />
        <Scatter data={nodeData} shape={renderNode} isAnimationActive={false} />
        <Legend layout="vertical" align="center" verticalAlign="middle"
          wrapperStyle={{ left: 250, top: 1200, width: 950, height: 300 }} content={() => <HeatLegend />} />
      </ScatterChart>
    </div>
  );
}

/* ======================= Panel C : box plots ======================= */
const BOX_COLORS = ['#C4262E', '#2B6FB0', '#48A23F'];

const chao1Stats = {
  min: [3975, 4130, 4094], q1: [4110, 4218, 4390], median: [4312, 4398, 4619],
  q3: [4439, 4481, 4682], max: [4602, 4773, 4923], mean: [4306, 4320, 4550],
  outliers: [[], [3785], []] as number[][],
};
const shannonStats = {
  min: [6.617, 6.775, 6.727], q1: [6.667, 6.775, 6.811], median: [6.755, 6.803, 6.893],
  q3: [6.835, 6.822, 6.913], max: [6.915, 6.872, 6.991], mean: [6.752, 6.674, 6.831],
  outliers: [[], [6.693, 5.285], [6.259]] as number[][],
};
const pdStats = {
  min: [251.9, 254.6, 251.3], q1: [262.3, 266.2, 274.0], median: [267.3, 271.7, 287.2],
  q3: [274.6, 279.2, 291.9], max: [289.5, 293.5, 299.6], mean: [269.5, 269.4, 282.9],
  outliers: [[], [222.8], []] as number[][],
};
const chao1Letters = ['b', 'b', 'a'];
const shannonLetters = ['a', 'a', 'a'];
const pdLetters = ['b', 'b', 'a'];

// broken-axis transforms (data value -> axis position)
const chaoT = (v: number) => v;
const shannonT = (v: number) => (v >= 6.55 ? v : v >= 5.8 ? v + 0.2913 : v + 1.1777);
const pdT = (v: number) => (v >= 240 ? v : v + 18.7);

const major = (v: number, T: any, label: string) => ({ t: T(v), kind: 'major', label });
const minor = (v: number, T: any) => ({ t: T(v), kind: 'minor' });

const chaoTicks = [
  ...[4000, 4200, 4400, 4600, 4800, 5000].map((v) => major(v, chaoT, String(v))),
  ...[3900, 4100, 4300, 4500, 4700, 4900].map((v) => minor(v, chaoT)),
  { t: 3861, kind: 'break' },
];
const shannonTicks = [
  ...[7.0, 6.9, 6.8, 6.7, 6.22, 5.26].map((v) => major(v, shannonT, v.toFixed(2))),
  ...[6.95, 6.85, 6.75, 6.65, 6.25, 6.2].map((v) => minor(v, shannonT)),
  { t: 6.589, kind: 'break' }, { t: 6.48, kind: 'break' },
];
const pdTicks = [
  ...[300, 290, 280, 270, 260, 220].map((v) => major(v, pdT, String(v))),
  ...[295, 285, 275, 265, 255, 225].map((v) => minor(v, pdT)),
  { t: 249.2, kind: 'break' },
];

const BOX_CONFIGS = [
  {
    key: 'chao', stats: chao1Stats, letters: chao1Letters, T: chaoT, ticks: chaoTicks,
    left: 1480, top: 690, width: 420, height: 547.5, marginTop: 24.8, marginRight: 10, yAxisWidth: 136.7, xAxisHeight: 60,
    xDomain: [0.364, 3.627], yDomain: [3737.6, 5022.2], labelGap: 17,
    title: 'Chao1 index', titleX: 32.6, titleY: 273.6,
  },
  {
    key: 'shannon', stats: shannonStats, letters: shannonLetters, T: shannonT, ticks: shannonTicks,
    left: 1480, top: 1220, width: 420, height: 523, marginTop: 24, marginRight: 10, yAxisWidth: 137.3, xAxisHeight: 60,
    xDomain: [0.402, 3.62], yDomain: [6.4263, 7.048], labelGap: 13,
    title: 'Shannon index', titleX: 44.5, titleY: 216,
  },
  {
    key: 'pd', stats: pdStats, letters: pdLetters, T: pdT, ticks: pdTicks,
    left: 1480, top: 1722, width: 420, height: 516, marginTop: 25, marginRight: 7.3, yAxisWidth: 138.3, xAxisHeight: 50,
    xDomain: [0.376, 3.624], yDomain: [238.7, 304.8], labelGap: 17,
    title: 'PD index', titleX: 56, titleY: 283,
  },
];

const makeBoxYTick = (specs: any[], labelGap: number) => (p: any) => {
  const { x, y, payload } = p;
  const s = specs.find((q) => Math.abs(q.t - payload.value) < 1e-6);
  if (!s) return <g />;
  if (s.kind === 'break') {
    return (
      <g>
        <line x1={x - 9} y1={y + 3} x2={x + 9} y2={y - 7} stroke="#000" strokeWidth={1.3} />
        <line x1={x - 9} y1={y + 9} x2={x + 9} y2={y - 1} stroke="#000" strokeWidth={1.3} />
      </g>
    );
  }
  const len = s.kind === 'major' ? 8 : 4;
  return (
    <g>
      <line x1={x - len} y1={y} x2={x} y2={y} stroke="#000" strokeWidth={1.3} />
      {s.label ? <text x={x - labelGap} y={y + 12} textAnchor="end" fontFamily={SERIF} fontSize={36} fill="#000">{s.label}</text> : null}
    </g>
  );
};

const monthTick = (p: any) => {
  const { x, y, payload } = p;
  return (
    <g>
      <line x1={x} y1={y} x2={x} y2={y + 8} stroke="#000" strokeWidth={1.5} />
      <text x={x} y={y + 36} textAnchor="middle" fontFamily={SERIF} fontSize={36} fill="#000">{MONTHS[Math.round(payload.value) - 1]}</text>
    </g>
  );
};

const renderBox = (p: any) => {
  const { x, y, width, height, payload } = p;
  if (!payload || !isFinite(y) || !isFinite(height)) return <g />;
  const k = height / (payload.tMax - payload.tMin);
  const py = (t: number) => y + (payload.tMax - t) * k;
  const cx = x + width / 2;
  const c = payload.color;
  const cap = width * 0.53;
  return (
    <g>
      <line x1={cx} x2={cx} y1={py(payload.tMax)} y2={py(payload.tQ3)} stroke={c} strokeWidth={3} />
      <line x1={cx} x2={cx} y1={py(payload.tQ1)} y2={py(payload.tMin)} stroke={c} strokeWidth={3} />
      <line x1={cx - cap / 2} x2={cx + cap / 2} y1={py(payload.tMax)} y2={py(payload.tMax)} stroke={c} strokeWidth={2.2} />
      <line x1={cx - cap / 2} x2={cx + cap / 2} y1={py(payload.tMin)} y2={py(payload.tMin)} stroke={c} strokeWidth={2.2} />
      <rect x={x} y={py(payload.tQ3)} width={width} height={py(payload.tQ1) - py(payload.tQ3)} fill="#fff" stroke={c} strokeWidth={3} />
      <line x1={x} x2={x + width} y1={py(payload.tMed)} y2={py(payload.tMed)} stroke={c} strokeWidth={1.8} />
      <rect x={cx - 3.5} y={py(payload.tMean) - 3.5} width={7} height={7} fill="#fff" stroke="#9A9A9A" strokeWidth={1.2} />
      {payload.tOut.map((t: number, i: number) => (
        <rect key={i} x={cx - 2.5} y={py(t) - 2.5} width={5} height={5} fill={c} transform={`rotate(45 ${cx} ${py(t)})`} />
      ))}
      <text x={cx} y={py(payload.tMax) - 5} textAnchor="middle" fontFamily={SERIF} fontSize={44} fill="#000">{payload.letter}</text>
    </g>
  );
};

function BoxChart({ cfg }: any) {
  const T = cfg.T;
  const data = MONTHS.map((m, i) => ({
    x: i + 1, month: m, color: BOX_COLORS[i], letter: cfg.letters[i],
    tMin: T(cfg.stats.min[i]), tQ1: T(cfg.stats.q1[i]), tMed: T(cfg.stats.median[i]),
    tQ3: T(cfg.stats.q3[i]), tMax: T(cfg.stats.max[i]), tMean: T(cfg.stats.mean[i]),
    tOut: cfg.stats.outliers[i].map(T),
  }));
  return (
    <div style={{ position: 'absolute', left: cfg.left, top: cfg.top }}>
      <ComposedChart width={cfg.width} height={cfg.height} data={data}
        margin={{ top: cfg.marginTop, right: cfg.marginRight, bottom: 0, left: 0 }}>
        <XAxis type="number" dataKey="x" domain={cfg.xDomain} allowDataOverflow ticks={[1, 2, 3]} interval={0}
          height={cfg.xAxisHeight} tickSize={0} tickMargin={0} tickLine={false}
          axisLine={{ stroke: '#000', strokeWidth: 1.5 }} tick={monthTick} />
        <YAxis type="number" domain={cfg.yDomain} allowDataOverflow ticks={cfg.ticks.map((t: any) => t.t)} interval={0}
          width={cfg.yAxisWidth} tickSize={0} tickMargin={0} tickLine={false}
          axisLine={{ stroke: '#000', strokeWidth: 1.5 }} tick={makeBoxYTick(cfg.ticks, cfg.labelGap)}
          label={<AxisTitle px={cfg.titleX} py={cfg.titleY} text={cfg.title} fs={35} />} />
        <ReferenceLine y={cfg.yDomain[1]} stroke="#000" strokeWidth={1.5} ifOverflow="visible" />
        <ReferenceLine x={cfg.xDomain[1]} stroke="#000" strokeWidth={1.5} ifOverflow="visible" />
        <Bar dataKey={(d: any) => [d.tMin, d.tMax]} barSize={62} shape={renderBox} isAnimationActive={false} />
      </ComposedChart>
    </div>
  );
}

/* ======================= App ======================= */
const PanelLabel = ({ text, left, top }: any) => (
  <div style={{ position: 'absolute', left, top, fontFamily: SANS, fontWeight: 'bold', fontSize: 26, lineHeight: '26px', color: '#000' }}>{text}</div>
);

export default function App() {
  return (
    <div style={{ position: 'absolute', left: 0, top: 0, width: 1902, height: 2238, background: '#fff', overflow: 'hidden' }}>
      <PhylaChart />
      <GeneraChart />
      <HeatNetwork />
      {BOX_CONFIGS.map((cfg) => <BoxChart key={cfg.key} cfg={cfg} />)}
      <PanelLabel text="A" left={13} top={15} />
      <PanelLabel text="B" left={13} top={691} />
      <PanelLabel text="C" left={1457} top={689} />
    </div>
  );
}
